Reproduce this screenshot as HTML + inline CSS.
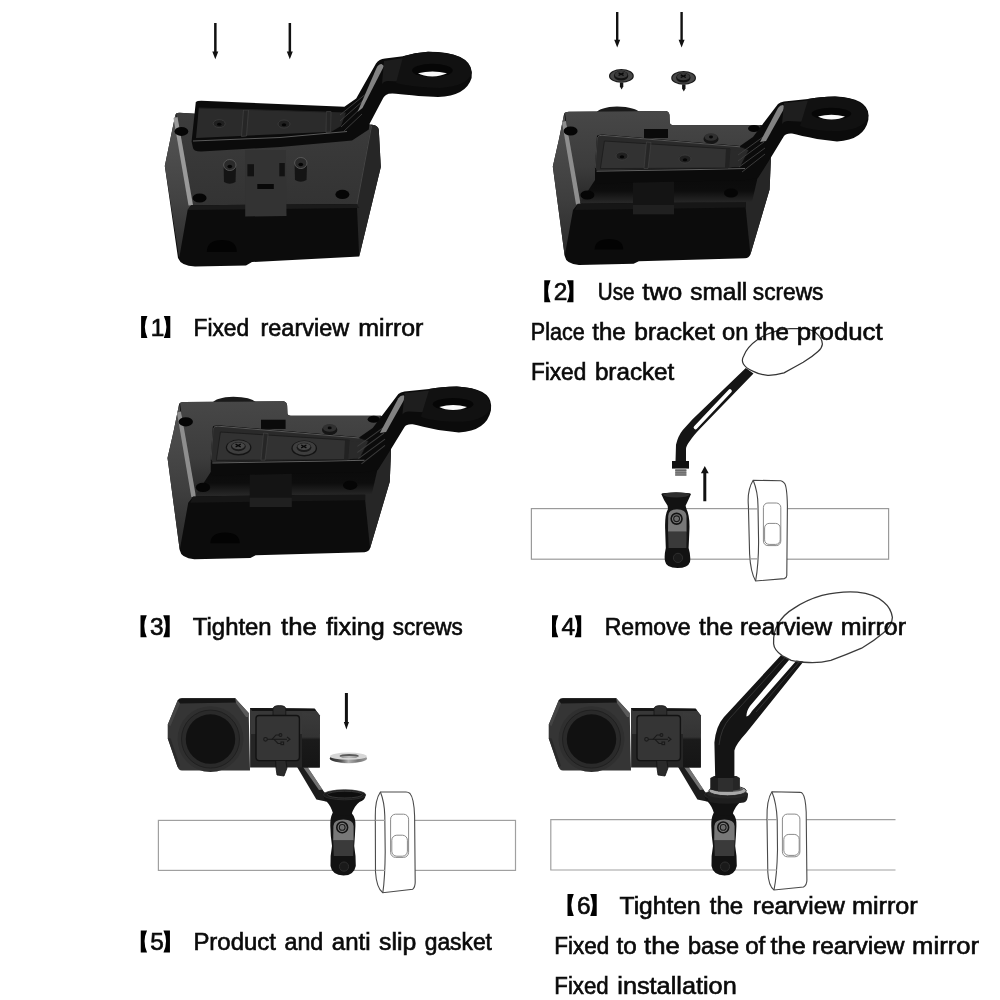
<!DOCTYPE html>
<html><head><meta charset="utf-8"><style>
html,body{margin:0;padding:0;background:#fff;width:1000px;height:1000px;overflow:hidden}
svg{display:block}
text{font-family:"Liberation Sans",sans-serif;font-size:24.4px;fill:#0a0a0a;stroke:#0a0a0a;stroke-width:0.65px;word-spacing:-1.6px}
</style></head><body>
<svg width="1000" height="1000" viewBox="0 0 1000 1000">
<g id="step1">
<defs>
<linearGradient id="g1top" x1="0" y1="0" x2="0" y2="1">
<stop offset="0" stop-color="#3c3c3c"/><stop offset="1" stop-color="#333333"/></linearGradient>
<linearGradient id="g1left" x1="0" y1="0" x2="0" y2="1">
<stop offset="0" stop-color="#555555"/><stop offset="0.6" stop-color="#424242"/><stop offset="1" stop-color="#2a2a2a"/></linearGradient>
</defs>
<!-- arrows -->
<path d="M214.1,23 h2.5 v28.4 h1.7 l-3,7.8 l-3,-7.8 h1.8 z" fill="#111"/>
<path d="M288.6,23 h2.5 v28.4 h1.7 l-3,7.8 l-3,-7.8 h1.8 z" fill="#111"/>
<!-- box silhouette / front -->
<path d="M175.4,114.6 Q176,112.8 179,112.8 L372,124.8 Q378.5,125.5 378.8,130 L380.8,167 L359.2,256.5 L252,262 L246,265.5 L195,266.5 Q181,266 178,258 L164.8,166 Z" fill="#0c0c0c"/>
<!-- left face -->
<path d="M175.4,114.6 L191.2,205.2 L187.6,210 L179.2,258 L164.8,166 Z" fill="url(#g1left)"/>
<!-- top face -->
<path d="M176,113.5 Q177,112.8 180,112.8 L372,124.8 Q378,125.5 378,129 L356.8,204 L191.2,205.2 Z" fill="url(#g1top)"/>
<!-- right face -->
<path d="M371.2,124.8 Q378.5,125.5 378.8,130 L380.8,167 L359.2,256.5 L356.8,204 Z" fill="#262626"/>
<!-- highlight edges -->
<path d="M173.5,118 L177.5,117 L193,205 L188.5,205.5 Z" fill="#9a9a9a"/>
<path d="M371.5,126 L357,204" stroke="#454545" stroke-width="1" fill="none"/>
<!-- front lip band -->
<path d="M191.2,205.2 L356.8,204 L359.2,208 L187.6,210 Z" fill="#1a1a1a"/>
<!-- tongue -->
<path d="M245.2,150 L285.9,150 L286.5,216 L245.2,216.5 Z" fill="#333"/>
<path d="M247.4,164.2 L254,164.2 L254,176.3 L247.4,176.3 Z" fill="#121212"/>
<path d="M279.3,163 L284.8,163 L284.8,176.3 L279.3,176.3 Z" fill="#121212"/>
<rect x="257.3" y="184" width="16.5" height="5" fill="#080808"/>
<!-- pins -->
<g>
<path d="M223.6,166 L236,166 L235.5,182 Q229.8,185.5 224,182 Z" fill="#141414"/>
<ellipse cx="229.8" cy="165" rx="6.2" ry="5.5" fill="#2a2a2a" stroke="#5a5a5a" stroke-width="0.9"/>
<ellipse cx="229.8" cy="166.5" rx="2.4" ry="1.8" fill="#050505"/>
<path d="M294.6,164 L307,164 L306.5,180 Q300.8,183.5 295,180 Z" fill="#141414"/>
<ellipse cx="300.8" cy="163" rx="6.2" ry="5.5" fill="#2a2a2a" stroke="#5a5a5a" stroke-width="0.9"/>
<ellipse cx="300.8" cy="164.5" rx="2.4" ry="1.8" fill="#050505"/>
</g>
<!-- holes -->
<ellipse cx="181.4" cy="131.4" rx="6.9" ry="4.5" fill="#050505"/>
<ellipse cx="199.6" cy="198" rx="7" ry="4.6" fill="#050505"/>
<ellipse cx="342.4" cy="194.4" rx="7" ry="4.6" fill="#050505"/>
<path d="M206.8,252 Q207,240 222,240 Q236.8,240 236.8,252 Z" fill="#030303"/>
<!-- plate front thickness + arm -->
<path d="M195.8,102 Q197,100.8 201.2,100.8 L344.4,106.7 L356.2,98.6 L376,63.5 Q379,59 385,58.5 L403,56.2 Q415,52.5 428,51.8 Q470,52 471.8,72 L471.6,78 Q466,96 438,97 L418.4,96 Q405,94.5 396,93.8 Q389,93 386,95 Q384,96.5 383.2,98 L369.6,123.8 L368.8,129.6
 L352,140.4 L280,147 L201,151.5 Q193,151.5 192.8,147 L191.6,141.6 Z" fill="#0b0b0b"/>
<!-- plate inner recess -->
<path d="M198.8,108 L326,112 L327,132 L196,138 Z" fill="#2b2b2b"/>
<path d="M331,112 L346,112.5 L341,126 L331,132 Z" fill="#262626"/>
<path d="M243.5,110 L248.5,110 L246.5,136 L241.5,136.5 Z" fill="#262626" stroke="#474747" stroke-width="0.6"/>
<path d="M326.5,111.5 L331,111.5 L330.5,132 L326,132.5 Z" fill="#262626" stroke="#474747" stroke-width="0.6"/>
<!-- plate rim highlight -->
<path d="M193,141 L280,137.5 L347,131.5" stroke="#5a5a5a" stroke-width="1" fill="none"/><path d="M198.8,108 L326,112" stroke="#202020" stroke-width="1" fill="none"/>
<!-- plate holes -->
<ellipse cx="219.2" cy="123.6" rx="6" ry="4" fill="#202020" stroke="#3d3d3d" stroke-width="0.8"/>
<ellipse cx="219.2" cy="124.3" rx="2.2" ry="1.5" fill="#050505"/>
<ellipse cx="284" cy="124" rx="6" ry="4" fill="#202020" stroke="#3d3d3d" stroke-width="0.8"/>
<ellipse cx="284" cy="124.7" rx="2.2" ry="1.5" fill="#050505"/>
<!-- ribs -->
<g stroke="#3c3c3c" stroke-width="1" fill="none">
<path d="M340,115 L364.5,95"/><path d="M340,121 L364,100"/><path d="M341,127 L363,106"/><path d="M344,131 L362,114"/>
</g>
<!-- arm highlight -->
<path d="M357.5,112 L376.5,68 Q378.5,64 381.5,64 L384,66 L362.5,108 Z" fill="#a0a0a0" opacity="0.8"/>
<path d="M384,61 L410,57 L410,82 L388,81 Q384,81 382,84 Z" fill="#1c1c1c"/>
<!-- ring top face -->
<path d="M403,56.2 Q415,52.5 428,51.8 Q470,52 471.6,73 Q468,86 440,88 Q410,87 396,83 L403,57 Z" fill="#111111"/>
<ellipse cx="432.4" cy="70.4" rx="20.3" ry="6.6" fill="#060606"/>
<path d="M418,73.2 Q432.4,69.8 447,73.2 Q441,76.2 432.4,76.4 Q423,76.2 418,73.2 Z" fill="#fafafa"/>
</g>

<g id="step2">
<defs>
<linearGradient id="g2top" x1="0" y1="0" x2="0" y2="1">
<stop offset="0" stop-color="#474747"/><stop offset="0.6" stop-color="#3c3c3c"/><stop offset="1" stop-color="#262626"/></linearGradient>
<linearGradient id="g2left" x1="0" y1="0" x2="0" y2="1">
<stop offset="0" stop-color="#525252"/><stop offset="0.6" stop-color="#3e3e3e"/><stop offset="1" stop-color="#2a2a2a"/></linearGradient>
</defs>
<!-- arrows -->
<path d="M616,12 h2.4 v27.7 h1.8 l-3,7.8 l-3,-7.8 h1.8 z" fill="#111"/>
<path d="M680.4,12 h2.4 v27.7 h1.8 l-3,7.8 l-3,-7.8 h1.8 z" fill="#111"/>
</g>
<g id="boxB">
<!-- dome behind -->
<path d="M596,113 Q600,107 617,106.5 Q636,107 640,113 Z" fill="#1a1a1a"/>
<!-- box silhouette -->
<path d="M564.2,113.4 Q565,111.8 569,111.8 L666,111 Q669,111.5 669.5,115 L669.8,123 Q670,125 673,125.2 L760,125 Q768,125.5 769,130 L770.8,160.8 L769.6,189.6 L750.4,254.4 Q749,258 745,258.2 L638.8,261.2 L633.6,263.8 L579,265.1 Q566,264 564.7,256 L552.8,166.4 L558.8,140 Z" fill="#0c0c0c"/>
<!-- left face -->
<path d="M564.2,113.4 L577.8,203.8 L573,210 L564.7,256 L552.8,166.4 L558.8,140 Z" fill="url(#g2left)"/>
<!-- top face -->
<path d="M565,113 Q566,111.8 569,111.8 L666,111 Q669,111.5 669.5,115 L669.8,123 Q670,125 673,125.2 L760,125 Q767,125.5 767.5,129 L745.6,201.6 L577.8,203.8 Z" fill="url(#g2top)"/>
<!-- right face -->
<path d="M760,125 Q768,125.5 769,130 L770.8,160.8 L769.6,189.6 L750.4,254.4 L745.6,207.6 L745.6,201.6 Z" fill="#262626"/>
<path d="M562,122 L566,121 L580.5,203.8 L576,204.5 Z" fill="#8e8e8e"/>
<path d="M577.8,203.8 L745.6,201.6 L745.6,207.6 L575,210 Z" fill="#161616"/>
<!-- dark rect -->
<rect x="644" y="129" width="24" height="9" fill="#0a0a0a"/>
<defs><linearGradient id="g2shadow" x1="0" y1="0" x2="0" y2="1"><stop offset="0" stop-color="#0a0a0a"/><stop offset="0.55" stop-color="#0d0d0d"/><stop offset="1" stop-color="#282828"/></linearGradient></defs>
<path d="M595,180 L758,176 L752,202 L580,203 Z" fill="url(#g2shadow)"/>
<!-- tongue -->
<path d="M633,150 L674,150 L674,214.2 L633,214.2 Z" fill="#141414"/><path d="M633,205 L674,205 L674,214.2 L633,214.2 Z" fill="#202020"/>
<!-- pin -->
<ellipse cx="711" cy="139" rx="7.5" ry="5" fill="#151515"/>
<ellipse cx="711" cy="137" rx="6.5" ry="3.8" fill="#303030"/>
<ellipse cx="711" cy="137" rx="2" ry="1.4" fill="#080808"/>
<!-- holes -->
<ellipse cx="570.6" cy="131" rx="7" ry="4.5" fill="#050505"/>
<ellipse cx="587.4" cy="195" rx="7" ry="4.5" fill="#050505"/>
<ellipse cx="731" cy="193" rx="7" ry="4.5" fill="#050505"/>
<ellipse cx="754" cy="128.5" rx="6" ry="3.5" fill="#050505"/>
<path d="M594.6,249.5 Q595,239 609,239 Q623.2,239 623.2,249.5 Z" fill="#030303"/>
<!-- plate + arm -->
<path d="M597,136 Q598,134.5 602,134.5 L740,146 L753,137 L778,104 Q780,102 784,101.5 L808,99 Q820,96.5 835,96.5 Q868,98 868.5,115 L868.3,120 Q864,140 837,141.5 L817,139 Q800,135.5 792,133.5 Q786,133 784,136 L770,159 L758,178 L746,180 L598,183.5 Q595,183.5 595,180 L595,172 Z" fill="#0b0b0b"/>
<!-- plate rim top -->
<path d="M597.5,137 Q598.5,135.2 602,135.2 L740,146.5 L749,150 L740,167.5 L598,171 Q595.2,171 595.3,168 Z" fill="#2a2a2a" stroke="#101010" stroke-width="0.9"/>
<path d="M598,136.5 Q599,135.3 602,135.3 L740,146.8" stroke="#5e5e5e" stroke-width="0.9" fill="none"/>
<path d="M596.5,171.2 L700,169.5 L745,168.5" stroke="#5e5e5e" stroke-width="1" fill="none"/>
<path d="M595.3,168 L597.5,137" stroke="#4a4a4a" stroke-width="0.8" fill="none"/>
<!-- plate inner -->
<path d="M604.4,141 L730,149 L728,168 L600.4,168.6 Z" fill="#323232" stroke="#1a1a1a" stroke-width="0.8"/>
<path d="M730,149.5 L742,151 L739,165 L729,168 Z" fill="#2a2a2a"/>
<path d="M646.5,142 L651,142.5 L648,168.5 L644,168.5 Z" fill="#262626" stroke="#4a4a4a" stroke-width="0.5"/>
<path d="M726,148.5 L730.5,149 L729,168 L725,168 Z" fill="#222"/>
<!-- ribs -->
<g stroke="#3c3c3c" stroke-width="1" fill="none">
<path d="M738,155 L763,137"/><path d="M738,161 L764,142"/><path d="M739,167 L765,148"/><path d="M742,172 L765,154"/>
</g>
<path d="M760,142 L778,108 Q780,105 783,105 L785,107 L766,141 Z" fill="#a0a0a0" opacity="0.8"/>
<path d="M784,103 L808,100.5 L808,122 L788,121 Q784,121 782,124 Z" fill="#1e1e1e"/>
<!-- ring top -->
<path d="M808,99 Q820,96.5 835,96.5 Q866,98 868.3,116 Q865,129 840,131 Q812,131 800,126 L808,100 Z" fill="#111111"/>
<ellipse cx="831.4" cy="113.8" rx="19.8" ry="6" fill="#060606"/>
<path d="M818,116.5 Q831.4,113 845,116.5 Q840,119.3 831.4,119.5 Q823,119.3 818,116.5 Z" fill="#fafafa"/>
</g>
<g id="step2extra">
<!-- screws -->
<path d="M619.9,82.4 h3.4 v4 l-1.7,3.2 l-1.7,-3.2 z" fill="#151515"/>
<ellipse cx="621.4" cy="75.9" rx="12.4" ry="6.9" fill="#1a1a1a"/>
<ellipse cx="621.4" cy="75.9" rx="11.3" ry="5.9" fill="#474747"/>
<ellipse cx="621.1" cy="75.7" rx="7.2" ry="4.9" fill="#121212"/>
<ellipse cx="621.1" cy="74.7" rx="6.4" ry="3.6" fill="#3a3a3a"/>
<path d="M618.6,72.9 l5,2.6 M623.6,72.9 l-5,2.6" stroke="#080808" stroke-width="1.4"/>
<path d="M682.1,84.4 h3.4 v4 l-1.7,3.2 l-1.7,-3.2 z" fill="#151515"/>
<ellipse cx="683.6" cy="77.9" rx="12.4" ry="6.9" fill="#1a1a1a"/>
<ellipse cx="683.6" cy="77.9" rx="11.3" ry="5.9" fill="#474747"/>
<ellipse cx="683.3000000000001" cy="77.7" rx="7.2" ry="4.9" fill="#121212"/>
<ellipse cx="683.3000000000001" cy="76.7" rx="6.4" ry="3.6" fill="#3a3a3a"/>
<path d="M680.8000000000001,74.9 l5,2.6 M685.8000000000001,74.9 l-5,2.6" stroke="#080808" stroke-width="1.4"/>
<ellipse cx="622" cy="156" rx="6" ry="4" fill="#202020" stroke="#3d3d3d" stroke-width="0.8"/>
<ellipse cx="622" cy="156.7" rx="2.2" ry="1.5" fill="#050505"/>
<ellipse cx="685" cy="159" rx="6" ry="4" fill="#202020" stroke="#3d3d3d" stroke-width="0.8"/>
<ellipse cx="685" cy="159.7" rx="2.2" ry="1.5" fill="#050505"/>
</g>
<g transform="matrix(1.025,0,0,1.025,-399.1,287.5)">
<!-- dome behind -->
<path d="M596,113 Q600,107 617,106.5 Q636,107 640,113 Z" fill="#1a1a1a"/>
<!-- box silhouette -->
<path d="M564.2,113.4 Q565,111.8 569,111.8 L666,111 Q669,111.5 669.5,115 L669.8,123 Q670,125 673,125.2 L760,125 Q768,125.5 769,130 L770.8,160.8 L769.6,189.6 L750.4,254.4 Q749,258 745,258.2 L638.8,261.2 L633.6,263.8 L579,265.1 Q566,264 564.7,256 L552.8,166.4 L558.8,140 Z" fill="#0c0c0c"/>
<!-- left face -->
<path d="M564.2,113.4 L577.8,203.8 L573,210 L564.7,256 L552.8,166.4 L558.8,140 Z" fill="url(#g2left)"/>
<!-- top face -->
<path d="M565,113 Q566,111.8 569,111.8 L666,111 Q669,111.5 669.5,115 L669.8,123 Q670,125 673,125.2 L760,125 Q767,125.5 767.5,129 L745.6,201.6 L577.8,203.8 Z" fill="url(#g2top)"/>
<!-- right face -->
<path d="M760,125 Q768,125.5 769,130 L770.8,160.8 L769.6,189.6 L750.4,254.4 L745.6,207.6 L745.6,201.6 Z" fill="#262626"/>
<path d="M562,122 L566,121 L580.5,203.8 L576,204.5 Z" fill="#8e8e8e"/>
<path d="M577.8,203.8 L745.6,201.6 L745.6,207.6 L575,210 Z" fill="#161616"/>
<!-- dark rect -->
<rect x="644" y="129" width="24" height="9" fill="#0a0a0a"/>
<defs><linearGradient x1="0" y1="0" x2="0" y2="1"><stop offset="0" stop-color="#0a0a0a"/><stop offset="0.55" stop-color="#0d0d0d"/><stop offset="1" stop-color="#282828"/></linearGradient></defs>
<path d="M595,180 L758,176 L752,202 L580,203 Z" fill="url(#g2shadow)"/>
<!-- tongue -->
<path d="M633,150 L674,150 L674,214.2 L633,214.2 Z" fill="#141414"/><path d="M633,205 L674,205 L674,214.2 L633,214.2 Z" fill="#202020"/>
<!-- pin -->
<ellipse cx="711" cy="139" rx="7.5" ry="5" fill="#151515"/>
<ellipse cx="711" cy="137" rx="6.5" ry="3.8" fill="#303030"/>
<ellipse cx="711" cy="137" rx="2" ry="1.4" fill="#080808"/>
<!-- holes -->
<ellipse cx="570.6" cy="131" rx="7" ry="4.5" fill="#050505"/>
<ellipse cx="587.4" cy="195" rx="7" ry="4.5" fill="#050505"/>
<ellipse cx="731" cy="193" rx="7" ry="4.5" fill="#050505"/>
<ellipse cx="754" cy="128.5" rx="6" ry="3.5" fill="#050505"/>
<path d="M594.6,249.5 Q595,239 609,239 Q623.2,239 623.2,249.5 Z" fill="#030303"/>
<!-- plate + arm -->
<path d="M597,136 Q598,134.5 602,134.5 L740,146 L753,137 L778,104 Q780,102 784,101.5 L808,99 Q820,96.5 835,96.5 Q868,98 868.5,115 L868.3,120 Q864,140 837,141.5 L817,139 Q800,135.5 792,133.5 Q786,133 784,136 L770,159 L758,178 L746,180 L598,183.5 Q595,183.5 595,180 L595,172 Z" fill="#0b0b0b"/>
<!-- plate rim top -->
<path d="M597.5,137 Q598.5,135.2 602,135.2 L740,146.5 L749,150 L740,167.5 L598,171 Q595.2,171 595.3,168 Z" fill="#2a2a2a" stroke="#101010" stroke-width="0.9"/>
<path d="M598,136.5 Q599,135.3 602,135.3 L740,146.8" stroke="#5e5e5e" stroke-width="0.9" fill="none"/>
<path d="M596.5,171.2 L700,169.5 L745,168.5" stroke="#5e5e5e" stroke-width="1" fill="none"/>
<path d="M595.3,168 L597.5,137" stroke="#4a4a4a" stroke-width="0.8" fill="none"/>
<!-- plate inner -->
<path d="M604.4,141 L730,149 L728,168 L600.4,168.6 Z" fill="#323232" stroke="#1a1a1a" stroke-width="0.8"/>
<path d="M730,149.5 L742,151 L739,165 L729,168 Z" fill="#2a2a2a"/>
<path d="M646.5,142 L651,142.5 L648,168.5 L644,168.5 Z" fill="#262626" stroke="#4a4a4a" stroke-width="0.5"/>
<path d="M726,148.5 L730.5,149 L729,168 L725,168 Z" fill="#222"/>
<!-- ribs -->
<g stroke="#3c3c3c" stroke-width="1" fill="none">
<path d="M738,155 L763,137"/><path d="M738,161 L764,142"/><path d="M739,167 L765,148"/><path d="M742,172 L765,154"/>
</g>
<path d="M760,142 L778,108 Q780,105 783,105 L785,107 L766,141 Z" fill="#a0a0a0" opacity="0.8"/>
<path d="M784,103 L808,100.5 L808,122 L788,121 Q784,121 782,124 Z" fill="#1e1e1e"/>
<!-- ring top -->
<path d="M808,99 Q820,96.5 835,96.5 Q866,98 868.3,116 Q865,129 840,131 Q812,131 800,126 L808,100 Z" fill="#111111"/>
<ellipse cx="831.4" cy="113.8" rx="19.8" ry="6" fill="#060606"/>
<path d="M818,116.5 Q831.4,113 845,116.5 Q840,119.3 831.4,119.5 Q823,119.3 818,116.5 Z" fill="#fafafa"/>
</g>

<g id="step3">
<g>
<ellipse cx="238.6" cy="447.6" rx="12.8" ry="8" fill="#141414"/>
<ellipse cx="238.6" cy="447.2" rx="11.5" ry="6.9" fill="#3e3e3e"/>
<ellipse cx="238.4" cy="446.6" rx="7.4" ry="4.6" fill="#1a1a1a"/>
<ellipse cx="238.4" cy="445.8" rx="6.4" ry="3.4" fill="#474747"/>
<path d="M235.6,444.2 l5.2,2.8 M240.8,444.2 l-5.2,2.8" stroke="#080808" stroke-width="1.4"/>
<ellipse cx="304.2" cy="448.4" rx="12.8" ry="8" fill="#141414"/>
<ellipse cx="304.2" cy="448" rx="11.5" ry="6.9" fill="#3e3e3e"/>
<ellipse cx="304" cy="447.4" rx="7.4" ry="4.6" fill="#1a1a1a"/>
<ellipse cx="304" cy="446.6" rx="6.4" ry="3.4" fill="#474747"/>
<path d="M301.2,445 l5.2,2.8 M306.4,445 l-5.2,2.8" stroke="#080808" stroke-width="1.4"/>
</g>
</g>

<g id="step4">
<!-- handlebar -->
<rect x="531.4" y="508.6" width="357.2" height="50.6" fill="none" stroke="#9a9a9a" stroke-width="1.2"/>
<!-- lever outline -->
<path d="M753.2,480.2 Q747,490 748.4,506 L749.6,554 Q750.5,572 755.6,581 L784.4,578.6 Q786.8,577.5 786.8,575.6 L787.4,506 Q787,486 784.4,483.2 Q782.5,481 780.8,480.8 Z" fill="#fff" stroke="#444" stroke-width="1.1"/>
<path d="M753.2,480.2 Q758,492 758,506 L758.6,542 Q758.5,565 755.6,581" fill="none" stroke="#444" stroke-width="1.1"/>
<path d="M748.8,508.9 H758.4 M749.5,558.8 H757.2" stroke="#9a9a9a" stroke-width="1.2"/>
<rect x="763.4" y="503" width="17.4" height="42.6" rx="4.5" fill="none" stroke="#8a8a8a" stroke-width="1"/>
<rect x="764.6" y="523.4" width="15.6" height="21" rx="4.5" fill="none" stroke="#8a8a8a" stroke-width="1"/>
<!-- arrow up -->
<path d="M703.3,501.2 h3 v-28 h2.4 l-3.9,-7.2 l-3.9,7.2 h2.4 z" fill="#111"/>
<!-- mount -->
<g id="mountD">
<path d="M661.3,494 Q662,492.5 676,492.5 Q690,492.5 691,494 Q688,501 685.6,505.7 L686.5,509 Q690,516 689.4,530 Q689,540 688.6,548 Q691,556 690,562 Q688,568 677.5,568 Q666,568 665,561 Q664,556 665.8,548 Q665.5,540 665.2,530 Q664.5,515 668,509 L667.6,505.7 Q664,501 661.3,494 Z" fill="#121212"/>
<path d="M668.2,516 Q668.5,509.3 677,509.3 Q686,509.3 686.5,516 L686.6,531.8 L668,531.8 Z" fill="#787878"/>
<path d="M668,531.8 L686.6,531.8 L686.4,548 L668.6,548 Z" fill="#3a3a3a"/>
<ellipse cx="676.2" cy="494.8" rx="13" ry="2.6" fill="#2e2e2e"/>
<circle cx="676.6" cy="518.75" r="5.4" fill="none" stroke="#121212" stroke-width="1.6"/>
<circle cx="676.6" cy="518.75" r="2.9" fill="none" stroke="#1a1a1a" stroke-width="1.1"/>
<circle cx="676.6" cy="518.75" r="1.6" fill="#6a6a6a"/>
<circle cx="678" cy="557.9" r="4.6" fill="#1a1a1a" stroke="#303030" stroke-width="0.9"/>
</g>
<!-- mirror arm -->
<path d="M675.5,461.6 L676,444.8 Q678,436 682.8,430.1 L692.3,419.6 L745.8,368.1 L753.5,373.4 L700.7,428 Q693,436 690.2,440.6 Q686,446 686,449 L686,461.6 Z" fill="#151515"/>
<path d="M695.5,427.5 L730,391" stroke="#fff" stroke-width="3.7" stroke-linecap="round"/>
<path d="M672,461 h17 v7.6 h-17 z" fill="#111"/>
<path d="M675.2,468.4 h11.2 v7.4 h-11.2 z" fill="#8a8a8a"/>
<path d="M675.2,470.5 h11.2 M675.2,472.8 h11.2 M675.2,475 h11.2" stroke="#555" stroke-width="0.7"/>
<!-- mirror outline -->
<path d="M746.6,367.6 Q740,362 743.7,356 Q747,347 758,339.3 Q766,334 774.4,331.6 Q782,329 790,328.7 L805,328.7 Q813,330 816.6,333.5 Q822,338 822.4,344.1 Q822,348 818,351.5 Q812,357 803.2,362.3 Q793,368 784,372.9 Q775,375.5 767.7,375.3 Q759,374.5 753.3,371.4 Q749,369.5 746.6,367.6 Z" fill="none" stroke="#333" stroke-width="1.2"/>
</g>

<g id="step5">
<defs>
<linearGradient id="gUsbR" x1="0" y1="0" x2="0" y2="1">
<stop offset="0" stop-color="#3a3a3a"/><stop offset="0.45" stop-color="#333"/><stop offset="0.5" stop-color="#1a1a1a"/><stop offset="1" stop-color="#151515"/></linearGradient>
<radialGradient id="gSpk" cx="0.5" cy="0.5" r="0.5">
<stop offset="0" stop-color="#0c0c0c"/><stop offset="1" stop-color="#121212"/></radialGradient>
</defs>
<!-- handlebar E -->
<rect x="158.4" y="820.4" width="357.1" height="50" fill="none" stroke="#a0a0a0" stroke-width="1.2"/>
<!-- lever E -->
<path d="M380.4,792 Q375,800 375.3,816 L375.5,872 Q376.5,888 382.8,892.8 L412.8,889.2 Q415.2,887 415.2,882 L414.6,816 Q414,798 410,793.5 Q408.5,792 406,792 Z" fill="#fff" stroke="#4a4a4a" stroke-width="1.1"/>
<path d="M380.4,792 Q384.5,802 384.8,816 L385.2,852 Q385,878 382.8,892.8" fill="none" stroke="#4a4a4a" stroke-width="1.1"/>
<path d="M375.4,820.4 H385 M375.8,870.4 H385" stroke="#a0a0a0" stroke-width="1.2"/>
<rect x="390.6" y="814.2" width="18" height="43.2" rx="5" fill="none" stroke="#8a8a8a" stroke-width="1"/>
<rect x="391.8" y="835.2" width="15.6" height="21" rx="5" fill="none" stroke="#8a8a8a" stroke-width="1"/>
<!-- arrow down -->
<path d="M344.9,693.1 h3 v28.8 h1.1 l-2.6,7.5 l-2.6,-7.5 h1.1 z" fill="#111"/>
<!-- gasket -->
<defs><linearGradient id="gGask" x1="0" y1="0" x2="1" y2="0"><stop offset="0" stop-color="#2a2a2a"/><stop offset="0.3" stop-color="#555"/><stop offset="0.5" stop-color="#b0b0b0"/><stop offset="0.75" stop-color="#777"/><stop offset="1" stop-color="#999"/></linearGradient></defs>
<ellipse cx="348.4" cy="758.6" rx="18.6" ry="4.6" fill="url(#gGask)"/>
<ellipse cx="348.4" cy="756.2" rx="18.4" ry="3.6" fill="#d6d6d6"/>
<ellipse cx="349.2" cy="756" rx="9.7" ry="2.1" fill="#5a5a5a"/>
<path d="M340,756.8 Q349,755 358.5,756.8 Q354,758 349.2,758.1 Q344,758 340,756.8 Z" fill="#bdbdbd"/>
<g id="prodE">
<!-- bracket arm -->
<path d="M296.5,766 L306.8,766 L323.6,791.2 L328,796 L326,801.5 L316.4,799.6 Z" fill="#1c1c1c"/>
<path d="M303,767 L307.5,767 L322.5,789.5 L319,790 Z" fill="#8a8a8a" opacity="0.8"/>
<!-- mount body -->
<path d="M332.6,813 L351.6,813 Q356,818 355.4,826 Q355,836 354.2,846 Q356,856 355.8,866 Q354,875.5 343.5,875.5 Q332,875 330.5,866 Q330,856 332,846 Q330.5,836 330.3,826 Q330,818 332.6,813 Z" fill="#121212"/>
<path d="M333.4,826 Q333.6,819.5 343.4,819.5 Q353.4,819.5 353.6,826 L353.6,840.4 L333.2,840.4 Z" fill="#787878"/>
<path d="M333.2,840.4 L353.6,840.4 L353.2,856 L333.8,856 Z" fill="#3a3a3a"/>
<circle cx="342.2" cy="827.4" r="5.4" fill="none" stroke="#121212" stroke-width="1.6"/>
<circle cx="342.2" cy="827.4" r="2.9" fill="none" stroke="#1a1a1a" stroke-width="1.1"/>
<circle cx="342.2" cy="827.4" r="1.6" fill="#6a6a6a"/>
<circle cx="344" cy="866.6" r="4.6" fill="#1a1a1a" stroke="#303030" stroke-width="0.9"/>
<!-- cup -->
<path d="M323.6,795 Q324,801 327,802 Q331,806 333.2,814 Q342,817 351.2,815.2 Q354,806 359.5,802 Q365.6,800 365.6,795 Z" fill="#121212"/>
<ellipse cx="344.6" cy="794.8" rx="21" ry="5" fill="#1c1c1c" stroke="#2e2e2e" stroke-width="0.8"/>
<ellipse cx="344.8" cy="794.6" rx="17.5" ry="3.4" fill="#0e0e0e" stroke="#3a3a3a" stroke-width="0.9"/>
<!-- speaker block -->
<path d="M177.6,700.4 Q179,698.2 182,698.2 L235.2,698.2 L248.7,713 L250,770.6 L182,770.6 Q178.5,770 177.6,767 L167.7,738.2 L167.7,724.7 Z" fill="#353535"/>
<path d="M177.6,700.4 Q179,698.2 182,698.2 L235.2,698.2 L238,702.5 L180,703.5 Z" fill="#151515"/>
<path d="M235.2,698.2 L248.7,713 L248.7,717 L246,717 L236,703 Z" fill="#5a5a5a"/>
<path d="M167.7,724.7 L177.6,700.4 L180,703.5 L170.5,726 Z" fill="#444"/>
<path d="M167.7,738.2 L170.5,738.2 L180,766 L177.6,767 Z" fill="#2a2a2a"/>
<circle cx="210.5" cy="739.1" r="32.9" fill="#2f2f2f"/>
<circle cx="210.5" cy="739.1" r="29" fill="#2a2a2a" stroke="#202020" stroke-width="1"/>
<circle cx="210.5" cy="739.1" r="24.75" fill="#111"/>
<!-- usb block -->
<path d="M250.1,707.9 L314.7,708.7 L319.8,715.5 L319.8,767.4 L250.1,767.4 Z" fill="#252525"/>
<path d="M250.1,707.9 L314.7,708.7 L319.8,715.5 L319.8,734 L250.1,734 Z" fill="#383838"/>
<path d="M302,712 L319.8,715.5 L319.8,767.4 L302,767.4 Z" fill="url(#gUsbR)"/>
<path d="M250.1,707.9 L314.7,708.7 L316,711 L252,711 Z" fill="#151515"/>
<path d="M273,715.5 L273,709 Q273,705.6 279.4,705.6 Q285.8,705.6 285.8,709 L285.8,715.5 Z" fill="#2e2e2e" stroke="#151515" stroke-width="0.8"/>
<rect x="256" y="715.5" width="43.4" height="45.1" rx="3" fill="#353535" stroke="#121212" stroke-width="1.4"/>
<g stroke="#1a1a1a" stroke-width="1.1" fill="none">
<path d="M267,739.3 H287"/><circle cx="265.5" cy="739.3" r="1.8"/>
<path d="M272,739.3 L276,735 H279"/><circle cx="280.5" cy="735" r="1.4"/>
<path d="M274,739.3 L278,743.5 H281"/><rect x="281" y="742" width="2.6" height="2.6"/>
<path d="M287,737 L290,739.3 L287,741.5"/>
</g>
<path d="M275.6,760.5 L285.8,760.5 L287,768 L284,776 L277,775 L276,768 Z" fill="#2a2a2a" stroke="#111" stroke-width="0.8"/>
</g>
</g>

<g id="step6">
<!-- handlebar F (no right border) -->
<path d="M895.5,819.7 H550.8 V870 H895.5" fill="none" stroke="#a0a0a0" stroke-width="1.2"/>
<!-- lever F -->
<path d="M771.9,791.7 Q766.5,800 767,819 L767.8,872 Q768.5,886 774,890 L803.5,887 Q806.9,885 806.9,880 L806.2,812 Q805.5,797 802.5,793.5 Q801.5,792.4 800.6,792.4 Z" fill="#fff" stroke="#4a4a4a" stroke-width="1.1"/>
<path d="M771.9,791.7 Q776.5,803 777.2,820 L777.5,850 Q777,875 774,890" fill="none" stroke="#4a4a4a" stroke-width="1.1"/>
<path d="M767,819.7 H777 M767.2,870 H777" stroke="#a0a0a0" stroke-width="1.2"/>
<rect x="782.4" y="814.1" width="17.5" height="42.7" rx="5" fill="none" stroke="#8a8a8a" stroke-width="1"/>
<rect x="783.8" y="834.4" width="15.4" height="21" rx="5" fill="none" stroke="#8a8a8a" stroke-width="1"/>
<g transform="translate(381,0)">
<!-- bracket arm -->
<path d="M296.5,766 L306.8,766 L323.6,791.2 L328,796 L326,801.5 L316.4,799.6 Z" fill="#1c1c1c"/>
<path d="M303,767 L307.5,767 L322.5,789.5 L319,790 Z" fill="#8a8a8a" opacity="0.8"/>
<!-- mount body -->
<path d="M332.6,813 L351.6,813 Q356,818 355.4,826 Q355,836 354.2,846 Q356,856 355.8,866 Q354,875.5 343.5,875.5 Q332,875 330.5,866 Q330,856 332,846 Q330.5,836 330.3,826 Q330,818 332.6,813 Z" fill="#121212"/>
<path d="M333.4,826 Q333.6,819.5 343.4,819.5 Q353.4,819.5 353.6,826 L353.6,840.4 L333.2,840.4 Z" fill="#787878"/>
<path d="M333.2,840.4 L353.6,840.4 L353.2,856 L333.8,856 Z" fill="#3a3a3a"/>
<circle cx="342.2" cy="827.4" r="5.4" fill="none" stroke="#121212" stroke-width="1.6"/>
<circle cx="342.2" cy="827.4" r="2.9" fill="none" stroke="#1a1a1a" stroke-width="1.1"/>
<circle cx="342.2" cy="827.4" r="1.6" fill="#6a6a6a"/>
<circle cx="344" cy="866.6" r="4.6" fill="#1a1a1a" stroke="#303030" stroke-width="0.9"/>
<!-- cup -->
<path d="M323.6,795 Q324,801 327,802 Q331,806 333.2,814 Q342,817 351.2,815.2 Q354,806 359.5,802 Q365.6,800 365.6,795 Z" fill="#121212"/>
<ellipse cx="344.6" cy="794.8" rx="21" ry="5" fill="#1c1c1c" stroke="#2e2e2e" stroke-width="0.8"/>
<ellipse cx="344.8" cy="794.6" rx="17.5" ry="3.4" fill="#0e0e0e" stroke="#3a3a3a" stroke-width="0.9"/>
<!-- speaker block -->
<path d="M177.6,700.4 Q179,698.2 182,698.2 L235.2,698.2 L248.7,713 L250,770.6 L182,770.6 Q178.5,770 177.6,767 L167.7,738.2 L167.7,724.7 Z" fill="#353535"/>
<path d="M177.6,700.4 Q179,698.2 182,698.2 L235.2,698.2 L238,702.5 L180,703.5 Z" fill="#151515"/>
<path d="M235.2,698.2 L248.7,713 L248.7,717 L246,717 L236,703 Z" fill="#5a5a5a"/>
<path d="M167.7,724.7 L177.6,700.4 L180,703.5 L170.5,726 Z" fill="#444"/>
<path d="M167.7,738.2 L170.5,738.2 L180,766 L177.6,767 Z" fill="#2a2a2a"/>
<circle cx="210.5" cy="739.1" r="32.9" fill="#2f2f2f"/>
<circle cx="210.5" cy="739.1" r="29" fill="#2a2a2a" stroke="#202020" stroke-width="1"/>
<circle cx="210.5" cy="739.1" r="24.75" fill="#111"/>
<!-- usb block -->
<path d="M250.1,707.9 L314.7,708.7 L319.8,715.5 L319.8,767.4 L250.1,767.4 Z" fill="#252525"/>
<path d="M250.1,707.9 L314.7,708.7 L319.8,715.5 L319.8,734 L250.1,734 Z" fill="#383838"/>
<path d="M302,712 L319.8,715.5 L319.8,767.4 L302,767.4 Z" fill="url(#gUsbR)"/>
<path d="M250.1,707.9 L314.7,708.7 L316,711 L252,711 Z" fill="#151515"/>
<path d="M273,715.5 L273,709 Q273,705.6 279.4,705.6 Q285.8,705.6 285.8,709 L285.8,715.5 Z" fill="#2e2e2e" stroke="#151515" stroke-width="0.8"/>
<rect x="256" y="715.5" width="43.4" height="45.1" rx="3" fill="#353535" stroke="#121212" stroke-width="1.4"/>
<g stroke="#1a1a1a" stroke-width="1.1" fill="none">
<path d="M267,739.3 H287"/><circle cx="265.5" cy="739.3" r="1.8"/>
<path d="M272,739.3 L276,735 H279"/><circle cx="280.5" cy="735" r="1.4"/>
<path d="M274,739.3 L278,743.5 H281"/><rect x="281" y="742" width="2.6" height="2.6"/>
<path d="M287,737 L290,739.3 L287,741.5"/>
</g>
<path d="M275.6,760.5 L285.8,760.5 L287,768 L284,776 L277,775 L276,768 Z" fill="#2a2a2a" stroke="#111" stroke-width="0.8"/>
</g>
<!-- washer + nut on cup -->
<path d="M707.2,794 Q707.2,801 711,802.5 Q727,805 744,802.5 Q748,801 748,794 Z" fill="#1e1e1e"/>
<ellipse cx="727.6" cy="794" rx="20.4" ry="4.5" fill="#262626"/>
<ellipse cx="727.6" cy="790.8" rx="18.8" ry="5" fill="#a8a8a8" stroke="#1a1a1a" stroke-width="0.8"/>
<ellipse cx="727.6" cy="789.2" rx="15.5" ry="2.8" fill="#555"/>
<path d="M710.5,778 L714,776 L736.5,776 L739.9,778 L739.9,789.5 Q725,792.5 710.5,789.5 Z" fill="#262626"/>
<path d="M718,776 L733,776 L733,791.5 L718,791.5 Z" fill="#2e2e2e"/>
<path d="M710.5,778 L718,776 L718,791 L710.5,789.5 Z" fill="#1e1e1e"/>
<!-- mirror arm F -->
<path d="M715.2,778 L714.4,742.4 Q716,726 724,717 L781,655.2 L789.5,659.5 L750,706 Q746,712 746.5,716.5 Q749,716 752,711 L796.5,660.5 L803.5,661.5 L746.4,732.8 Q736,744 734.4,750.4 L734.4,778 Z" fill="#141414"/>
<path d="M719,745 Q721,728 730,718 L785,657.5" stroke="#3a3a3a" stroke-width="0.8" fill="none"/>
<path d="M756,712 L800,661" stroke="#3a3a3a" stroke-width="0.8" fill="none"/>
<!-- mirror outline F -->
<path d="M782.4,655.9 Q774,650 773.6,643.8 Q773,632 778,624 Q784,614 793.4,608.6 Q806,600 822,595.4 Q840,591 857.2,592.1 Q875,594 883.6,602 Q891,608 892.4,617.4 Q892,626 883.6,632.8 Q874,641 861.6,648.2 Q846,655 830.8,660.3 Q820,663 808.8,662.5 Q798,662 791.2,660.3 Z" fill="none" stroke="#3a3a3a" stroke-width="1.3"/>
</g>


<g style="will-change:transform">
<text x="193.55" y="335.5" textLength="55.62" lengthAdjust="spacingAndGlyphs">Fixed</text>
<text x="260.50" y="335.5" textLength="88.61" lengthAdjust="spacingAndGlyphs">rearview</text>
<text x="358.30" y="335.5" textLength="65.14" lengthAdjust="spacingAndGlyphs">mirror</text>
<text x="597.80" y="299.75" textLength="36.69" lengthAdjust="spacingAndGlyphs">Use</text>
<text x="642.30" y="299.75" textLength="39.87" lengthAdjust="spacingAndGlyphs">two</text>
<text x="690.30" y="299.75" textLength="56.94" lengthAdjust="spacingAndGlyphs">small</text>
<text x="752.80" y="299.75" textLength="70.66" lengthAdjust="spacingAndGlyphs">screws</text>
<text x="530.80" y="339.5" textLength="53.93" lengthAdjust="spacingAndGlyphs">Place</text>
<text x="592.30" y="339.5" textLength="33.42" lengthAdjust="spacingAndGlyphs">the</text>
<text x="634.30" y="339.5" textLength="80.42" lengthAdjust="spacingAndGlyphs">bracket</text>
<text x="722.00" y="339.5" textLength="26.44" lengthAdjust="spacingAndGlyphs">on</text>
<text x="755.30" y="339.5" textLength="33.62" lengthAdjust="spacingAndGlyphs">the</text>
<text x="796.70" y="339.5" textLength="85.99" lengthAdjust="spacingAndGlyphs">product</text>
<text x="530.90" y="379.5" textLength="55.37" lengthAdjust="spacingAndGlyphs">Fixed</text>
<text x="594.90" y="379.5" textLength="79.42" lengthAdjust="spacingAndGlyphs">bracket</text>
<text x="192.80" y="634.75" textLength="78.88" lengthAdjust="spacingAndGlyphs">Tighten</text>
<text x="281.00" y="634.75" textLength="35.72" lengthAdjust="spacingAndGlyphs">the</text>
<text x="326.00" y="634.75" textLength="58.76" lengthAdjust="spacingAndGlyphs">fixing</text>
<text x="392.70" y="634.75" textLength="70.21" lengthAdjust="spacingAndGlyphs">screws</text>
<text x="604.70" y="634.75" textLength="85.86" lengthAdjust="spacingAndGlyphs">Remove</text>
<text x="699.10" y="634.75" textLength="34.02" lengthAdjust="spacingAndGlyphs">the</text>
<text x="740.00" y="634.75" textLength="92.20" lengthAdjust="spacingAndGlyphs">rearview</text>
<text x="840.80" y="634.75" textLength="65.19" lengthAdjust="spacingAndGlyphs">mirror</text>
<text x="193.40" y="950" textLength="82.59" lengthAdjust="spacingAndGlyphs">Product</text>
<text x="284.50" y="950" textLength="38.81" lengthAdjust="spacingAndGlyphs">and</text>
<text x="331.80" y="950" textLength="38.74" lengthAdjust="spacingAndGlyphs">anti</text>
<text x="379.00" y="950" textLength="37.21" lengthAdjust="spacingAndGlyphs">slip</text>
<text x="424.70" y="950" textLength="67.29" lengthAdjust="spacingAndGlyphs">gasket</text>
<text x="619.55" y="913.5" textLength="81.13" lengthAdjust="spacingAndGlyphs">Tighten</text>
<text x="709.80" y="913.5" textLength="33.42" lengthAdjust="spacingAndGlyphs">the</text>
<text x="752.80" y="913.5" textLength="92.00" lengthAdjust="spacingAndGlyphs">rearview</text>
<text x="851.90" y="913.5" textLength="65.79" lengthAdjust="spacingAndGlyphs">mirror</text>
<text x="554.30" y="954" textLength="54.97" lengthAdjust="spacingAndGlyphs">Fixed</text>
<text x="616.50" y="954" textLength="20.25" lengthAdjust="spacingAndGlyphs">to</text>
<text x="644.00" y="954" textLength="35.72" lengthAdjust="spacingAndGlyphs">the</text>
<text x="688.00" y="954" textLength="51.11" lengthAdjust="spacingAndGlyphs">base</text>
<text x="745.20" y="954" textLength="20.15" lengthAdjust="spacingAndGlyphs">of</text>
<text x="770.60" y="954" textLength="35.12" lengthAdjust="spacingAndGlyphs">the</text>
<text x="812.00" y="954" textLength="92.50" lengthAdjust="spacingAndGlyphs">rearview</text>
<text x="912.10" y="954" textLength="66.99" lengthAdjust="spacingAndGlyphs">mirror</text>
<text x="554.30" y="994" textLength="54.37" lengthAdjust="spacingAndGlyphs">Fixed</text>
<text x="617.30" y="994" textLength="119.39" lengthAdjust="spacingAndGlyphs">installation</text>
<path d="M141.1,316.0 H147.4 Q142.29999999999998,326.95 147.4,337.9 H141.1 Z"/>
<path d="M170.29999999999998,316.0 H163.79999999999998 Q169.1,326.95 163.79999999999998,337.9 H170.29999999999998 Z"/>
<text x="150.70" y="335.5">1</text>
<path d="M544.25,280.25 H550.55 Q545.45,291.2 550.55,302.15 H544.25 Z"/>
<path d="M573.45,280.25 H566.95 Q572.25,291.2 566.95,302.15 H573.45 Z"/>
<text x="553.85" y="299.75">2</text>
<path d="M140.5,615.25 H146.8 Q141.7,626.2 146.8,637.15 H140.5 Z"/>
<path d="M169.7,615.25 H163.2 Q168.5,626.2 163.2,637.15 H169.7 Z"/>
<text x="150.10" y="634.75">3</text>
<path d="M552,615.25 H558.3 Q553.2,626.2 558.3,637.15 H552 Z"/>
<path d="M581.2,615.25 H574.7 Q580.0,626.2 574.7,637.15 H581.2 Z"/>
<text x="561.60" y="634.75">4</text>
<path d="M140.75,930.5 H147.05 Q141.95,941.45 147.05,952.4 H140.75 Z"/>
<path d="M169.95,930.5 H163.45 Q168.75,941.45 163.45,952.4 H169.95 Z"/>
<text x="150.35" y="950">5</text>
<path d="M567.5,894.0 H573.8 Q568.7,904.95 573.8,915.9 H567.5 Z"/>
<path d="M596.7,894.0 H590.2 Q595.5,904.95 590.2,915.9 H596.7 Z"/>
<text x="577.10" y="913.5">6</text>
</g>
</svg>
</body></html>
